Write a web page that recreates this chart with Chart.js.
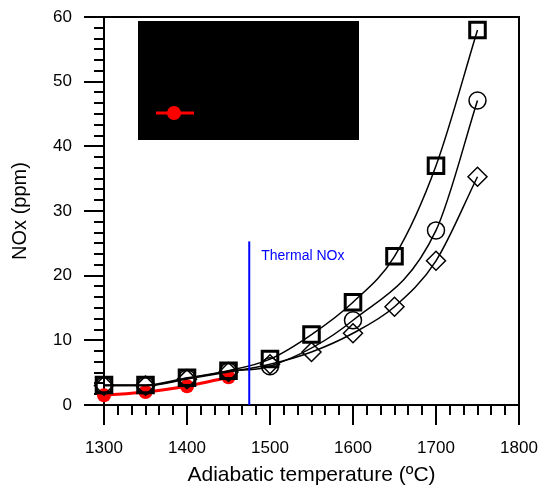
<!DOCTYPE html>
<html>
<head>
<meta charset="utf-8">
<script src="https://cdn.jsdelivr.net/npm/chart.js@4"></script>
<style>
  html, body { margin: 0; background: #fff; }
  #wrap { width: 541px; height: 490px; }
</style>
</head>
<body>
<div id="wrap"><canvas id="chart"></canvas></div>
<script>
// NOx vs adiabatic temperature
const temps = [1300, 1350, 1400, 1450, 1500, 1550, 1600, 1650, 1700, 1750];
const noxSquare = [3.1, 3.1, 4.2, 5.3, 7.1, 10.9, 15.9, 23.0, 37.0, 58.0];
const tempsCircle = [1300, 1350, 1400, 1450, 1500, 1600, 1700, 1750];
const noxCircle = [3.0, 3.0, 4.1, 5.2, 6.0, 13.1, 27.0, 47.1];
const noxDiamond = [3.0, 3.0, 4.0, 5.1, 6.3, 8.2, 11.1, 15.2, 22.3, 35.3];
const tempsMeasured = [1300, 1350, 1400, 1450];
const noxMeasured = [1.5, 2.0, 2.9, 4.3];
const thermalTemp = 1475;
const thermalTop = 25.3;
const xRange = [1300, 1800];
const yRange = [0, 60];

const FONT = "'Liberation Sans', Arial, sans-serif";

function pts(xs, ys){ return xs.map((x, i) => ({x: x, y: ys[i]})); }

// axis box + major/minor ticks, drawn behind the data
const axesPlugin = {
  id: 'axes',
  beforeDatasetsDraw(chart){
    const {ctx, chartArea: a, scales: {x, y}} = chart;
    ctx.save();
    ctx.strokeStyle = '#000';
    ctx.lineWidth = 2;
    ctx.strokeRect(a.left, a.top, a.right - a.left, a.bottom - a.top);
    ctx.beginPath();
    for(let i = 0; i <= 30; i++){
      const v = xRange[0] + i * 100 / 6;
      const px = Math.round(x.getPixelForValue(v));
      const len = i % 6 === 0 ? 20 : 10;
      ctx.moveTo(px, a.bottom); ctx.lineTo(px, a.bottom + len);
    }
    for(let i = 0; i <= 36; i++){
      const v = yRange[0] + i * 10 / 6;
      const py = Math.round(y.getPixelForValue(v));
      const len = i % 6 === 0 ? 20 : 10;
      ctx.moveTo(a.left, py); ctx.lineTo(a.left - len, py);
    }
    ctx.stroke();
    ctx.restore();
  },
  afterDatasetsDraw(chart){
    const {ctx, chartArea: a, scales: {x, y}} = chart;
    ctx.save();
    // label next to the thermal NOx line
    ctx.fillStyle = '#0000ff';
    ctx.font = '14px ' + FONT;
    ctx.textBaseline = 'middle';
    ctx.fillText('Thermal NOx', x.getPixelForValue(thermalTemp) + 12, y.getPixelForValue(thermalTop) + 15);
    // legend box
    const lx = a.left + 34, ly = a.top + 4;
    ctx.fillStyle = '#000';
    ctx.fillRect(lx, ly, 221, 119);
    ctx.strokeStyle = '#ff0000';
    ctx.lineWidth = 3;
    ctx.beginPath();
    ctx.moveTo(lx + 18, ly + 92); ctx.lineTo(lx + 56, ly + 92);
    ctx.stroke();
    ctx.fillStyle = '#ff0000';
    ctx.beginPath();
    ctx.arc(lx + 36, ly + 92, 7, 0, Math.PI * 2);
    ctx.fill();
    ctx.restore();
  }
};

const black = '#000';
const clear = 'rgba(0,0,0,0)';
new Chart(document.getElementById('chart'), {
  type: 'line',
  data: {
    datasets: [
      {
        label: 'Thermal NOx',
        data: pts([thermalTemp, thermalTemp], [0, thermalTop]),
        borderColor: '#0000ff', borderWidth: 2, pointRadius: 0, tension: 0
      },
      {
        label: 'Diamond',
        data: pts(temps, noxDiamond),
        borderColor: black, borderWidth: 1.5, backgroundColor: clear,
        pointStyle: 'rectRot', pointRadius: 9.5, pointBorderWidth: 1.5,
        cubicInterpolationMode: 'monotone', clip: false
      },
      {
        label: 'Circle',
        data: pts(tempsCircle, noxCircle),
        borderColor: black, borderWidth: 1.5, backgroundColor: clear,
        pointStyle: 'circle', pointRadius: 8.5, pointBorderWidth: 1.5,
        cubicInterpolationMode: 'monotone', clip: false
      },
      {
        label: 'Square',
        data: pts(temps, noxSquare),
        borderColor: black, borderWidth: 1.5, backgroundColor: clear,
        pointStyle: 'rect', pointRadius: 11, pointBorderWidth: 3,
        cubicInterpolationMode: 'monotone', clip: false
      },
      {
        label: 'Measured',
        data: pts(tempsMeasured, noxMeasured),
        borderColor: '#ff0000', borderWidth: 3, backgroundColor: '#ff0000',
        pointStyle: 'circle', pointRadius: 7, pointBorderWidth: 0,
        cubicInterpolationMode: 'monotone', clip: false
      }
    ]
  },
  options: {
    responsive: true,
    maintainAspectRatio: false,
    animation: false,
    layout: { autoPadding: false, padding: { top: 17, right: 22, left: 0, bottom: 0 } },
    plugins: { legend: { display: false }, tooltip: { enabled: false } },
    scales: {
      x: {
        type: 'linear', min: xRange[0], max: xRange[1],
        grid: { display: false, drawTicks: false },
        border: { display: false },
        ticks: { stepSize: 100, padding: 33, color: black, font: { family: FONT, size: 17 },
                 callback: v => String(v) },
        title: { display: true, text: 'Adiabatic temperature (ºC)', color: black,
                 font: { family: FONT, size: 21 }, padding: { top: 0, bottom: 2 } },
        afterFit(s){ s.height = 85; s.paddingLeft = 0; s.paddingRight = 0; }
      },
      y: {
        min: yRange[0], max: yRange[1],
        grid: { display: false, drawTicks: false },
        border: { display: false },
        ticks: { stepSize: 10, padding: 32, color: black, font: { family: FONT, size: 17 } },
        title: { display: true, text: 'NOx (ppm)', color: black,
                 font: { family: FONT, size: 20 }, padding: { top: 8, bottom: 0 } },
        afterFit(s){ s.width = 104; s.paddingTop = 0; s.paddingBottom = 0; }
      }
    }
  },
  plugins: [axesPlugin]
});
</script>
</body>
</html>
